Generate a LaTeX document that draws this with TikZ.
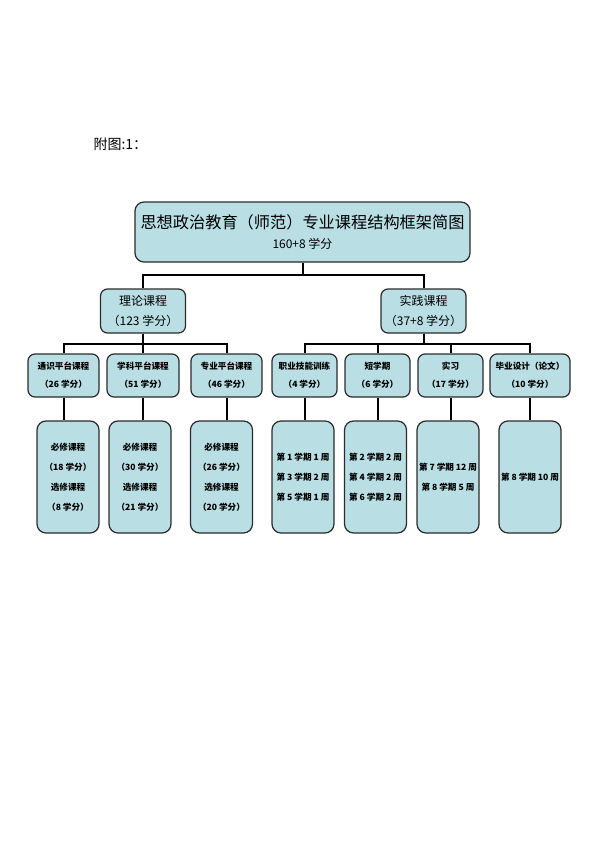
\documentclass[tikz,border=0pt]{standalone}
\usepackage{fontspec}
\setmainfont{Noto Sans CJK SC}
\definecolor{boxfill}{HTML}{B9DFE4}
\definecolor{boxline}{HTML}{2B2B2B}
\usetikzlibrary{positioning}

\begin{document}
\begin{tikzpicture}[x=1pt, y=1pt,
  bx/.style={rectangle, rounded corners=7pt, fill=boxfill, draw=boxline, line width=1.2pt,
             align=center, inner sep=1pt},
  lvtwo/.style={bx, minimum width=85pt, minimum height=44pt, font=\fontsize{12}{20}\selectfont},
  lvthree/.style={bx, minimum height=43pt, font=\fontsize{8.6}{18}\selectfont\bfseries},
  lvfour/.style={bx, minimum width=62pt, minimum height=112pt, rounded corners=9pt,
                 font=\fontsize{8.6}{20}\selectfont\bfseries},
  ln/.style={line width=2pt, black},
]
\useasboundingbox (0,0) rectangle (599,-848);
\node[anchor=west, font=\fontsize{14}{16}\selectfont] (cap) at (90,-144) {附图:1：};
% top
\node[bx, minimum width=335pt, minimum height=60pt, rounded corners=9pt,
      font=\fontsize{12}{20}\selectfont] (title) at (302.5,-232)
  {{\fontsize{16.2}{20}\selectfont 思想政治教育（师范）专业课程结构框架简图}\\160+8 学分};
\node[lvtwo] (th) at (143,-311) {理论课程\\（123 学分）};
\node[lvtwo] (pr) at (423.5,-311) {实践课程\\（37+8 学分）};
% third row
\node[lvthree, minimum width=71pt] (tg) at (63.5,-375.5) {通识平台课程\\（26 学分）};
\node[lvthree, minimum width=72pt] (xk) at (143,-375.5) {学科平台课程\\（51 学分）};
\node[lvthree, minimum width=71pt] (zy) at (226.5,-375.5) {专业平台课程\\（46 学分）};
\node[lvthree, minimum width=65pt] (zj) at (304.5,-375.5) {职业技能训练\\（4 学分）};
\node[lvthree, minimum width=65pt] (dx) at (377.5,-375.5) {短学期\\（6 学分）};
\node[lvthree, minimum width=65pt] (sx) at (450.5,-375.5) {实习\\（17 学分）};
\node[lvthree, minimum width=80pt] (by) at (530,-375.5) {毕业设计（论文）\\（10 学分）};
% bottom row
\node[lvfour] (tgb) at (68,-477) {必修课程\\（18 学分）\\选修课程\\（8 学分）};
\node[lvfour] (xkb) at (140,-477) {必修课程\\（30 学分）\\选修课程\\（21 学分）};
\node[lvfour] (zyb) at (221.5,-477) {必修课程\\（26 学分）\\选修课程\\（20 学分）};
\node[lvfour] (zjb) at (303,-477) {第 1 学期 1 周\\第 3 学期 2 周\\第 5 学期 1 周};
\node[lvfour] (dxb) at (375.5,-477) {第 2 学期 2 周\\第 4 学期 2 周\\第 6 学期 2 周};
\node[lvfour] (sxb) at (448,-477) {第 7 学期 12 周\\第 8 学期 5 周};
\node[lvfour] (byb) at (530,-477) {第 8 学期 10 周};
% connectors
\draw[ln] (title.south) -- ++(0,-12.5) -| (th.north);
\draw[ln] (title.south) -- ++(0,-12.5) -| (pr.north);
\foreach \c in {tg,xk,zy} \draw[ln] (th.south) -- ++(0,-10) -| (\c.north);
\foreach \c in {zj,dx,sx,by} \draw[ln] (pr.south) -- ++(0,-10) -| (\c.north);
\foreach \c in {tg,xk,zy,zj,dx,sx,by} \draw[ln] (\c.south) -- (\c.south |- \c b.north);
\end{tikzpicture}
\end{document}
